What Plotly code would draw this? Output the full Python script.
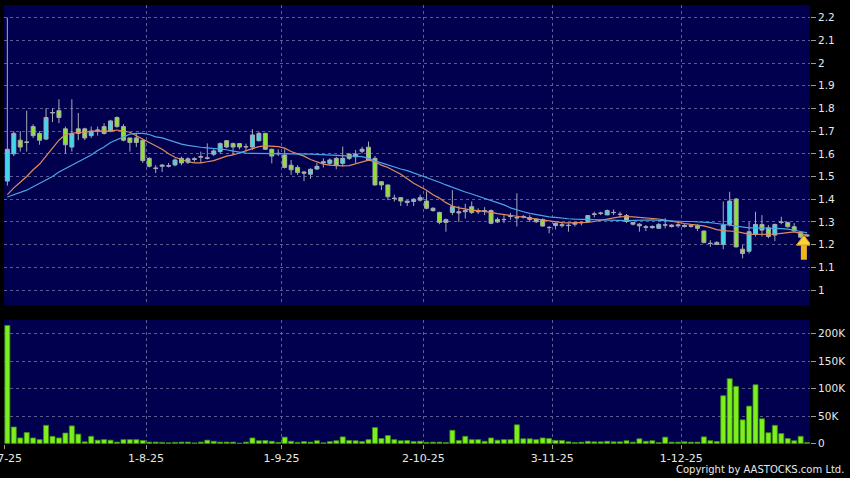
import pandas as pd
import plotly.graph_objects as go

# ---------------- data ----------------
HOLIDAYS = ["2025-10-01", "2025-10-07", "2025-10-29", "2025-12-25", "2025-12-26"]
DATES = [d for d in pd.bdate_range("2025-07-02", "2025-12-30")
         if d.strftime("%Y-%m-%d") not in HOLIDAYS]

OPEN = [1.48, 1.60, 1.66, 1.65, 1.72, 1.69, 1.665, 1.78, 1.79, 1.71,
        1.63, 1.71, 1.71, 1.68, 1.70, 1.72, 1.70, 1.76, 1.72, 1.67,
        1.67, 1.66, 1.58, 1.535, 1.545, 1.548, 1.551, 1.58, 1.563, 1.575,
        1.585, 1.58, 1.598, 1.61, 1.658, 1.645, 1.645, 1.63, 1.63, 1.658,
        1.69, 1.62, 1.60, 1.595, 1.55, 1.54, 1.52, 1.51, 1.533, 1.56,
        1.558, 1.58, 1.558, 1.599, 1.587, 1.611, 1.629, 1.58, 1.477, 1.463,
        1.405, 1.407, 1.392, 1.39, 1.396, 1.392, 1.36, 1.342, 1.298, 1.342,
        1.345, 1.345, 1.367, 1.35, 1.35, 1.35, 1.311, 1.31, 1.324, 1.32,
        1.322, 1.319, 1.313, 1.311, 1.276, 1.284, 1.288, 1.284, 1.29, 1.296,
        1.302, 1.333, 1.337, 1.331, 1.341, 1.334, 1.328, 1.298, 1.29, 1.279,
        1.28, 1.272, 1.286, 1.286, 1.283, 1.285, 1.284, 1.283, 1.26, 1.206,
        1.21, 1.201, 1.289, 1.401, 1.18, 1.171, 1.245, 1.289, 1.274, 1.242,
        1.298, 1.298, 1.279, 1.253, 1.238]
HIGH = [2.20, 1.70, 1.70, 1.79, 1.73, 1.70, 1.80, 1.80, 1.84, 1.72,
        1.84, 1.78, 1.715, 1.72, 1.72, 1.735, 1.75, 1.765, 1.73, 1.67,
        1.69, 1.66, 1.585, 1.55, 1.555, 1.56, 1.58, 1.587, 1.585, 1.585,
        1.61, 1.646, 1.62, 1.65, 1.66, 1.65, 1.648, 1.645, 1.708, 1.697,
        1.693, 1.623, 1.62, 1.62, 1.573, 1.55, 1.525, 1.536, 1.56, 1.58,
        1.58, 1.587, 1.632, 1.602, 1.617, 1.631, 1.654, 1.59, 1.48, 1.463,
        1.42, 1.41, 1.395, 1.405, 1.42, 1.435, 1.365, 1.345, 1.315, 1.44,
        1.37, 1.38, 1.39, 1.36, 1.365, 1.355, 1.32, 1.33, 1.34, 1.426,
        1.33, 1.33, 1.315, 1.315, 1.282, 1.297, 1.30, 1.294, 1.30, 1.30,
        1.33, 1.345, 1.345, 1.355, 1.355, 1.345, 1.335, 1.30, 1.295, 1.286,
        1.285, 1.295, 1.316, 1.29, 1.295, 1.29, 1.29, 1.29, 1.262, 1.22,
        1.215, 1.39, 1.433, 1.405, 1.198, 1.30, 1.345, 1.33, 1.286, 1.292,
        1.323, 1.30, 1.295, 1.256, 1.245]
LOW = [1.46, 1.59, 1.61, 1.61, 1.67, 1.64, 1.66, 1.74, 1.735, 1.60,
       1.61, 1.66, 1.66, 1.67, 1.68, 1.685, 1.695, 1.715, 1.655, 1.61,
       1.63, 1.56, 1.54, 1.515, 1.52, 1.54, 1.545, 1.55, 1.555, 1.565,
       1.56, 1.575, 1.59, 1.60, 1.625, 1.595, 1.62, 1.61, 1.617, 1.654,
       1.617, 1.558, 1.59, 1.535, 1.507, 1.507, 1.48, 1.49, 1.53, 1.54,
       1.55, 1.532, 1.545, 1.573, 1.56, 1.602, 1.57, 1.46, 1.441, 1.396,
       1.39, 1.37, 1.37, 1.37, 1.39, 1.355, 1.345, 1.29, 1.257, 1.33,
       1.30, 1.315, 1.335, 1.335, 1.33, 1.29, 1.295, 1.295, 1.31, 1.28,
       1.315, 1.30, 1.295, 1.279, 1.25, 1.267, 1.275, 1.257, 1.28, 1.285,
       1.30, 1.32, 1.33, 1.33, 1.33, 1.32, 1.295, 1.285, 1.257, 1.26,
       1.27, 1.27, 1.272, 1.275, 1.275, 1.275, 1.275, 1.26, 1.205, 1.19,
       1.198, 1.18, 1.28, 1.188, 1.14, 1.161, 1.236, 1.236, 1.228, 1.216,
       1.29, 1.275, 1.257, 1.228, 1.235]
CLOSE = [1.62, 1.69, 1.63, 1.652, 1.68, 1.66, 1.76, 1.782, 1.76, 1.64,
         1.69, 1.69, 1.67, 1.70, 1.705, 1.69, 1.745, 1.72, 1.66, 1.65,
         1.65, 1.57, 1.545, 1.537, 1.55, 1.546, 1.573, 1.56, 1.578, 1.578,
         1.588, 1.582, 1.613, 1.645, 1.63, 1.63, 1.63, 1.632, 1.683, 1.69,
         1.62, 1.59, 1.602, 1.54, 1.53, 1.518, 1.515, 1.532, 1.545, 1.565,
         1.573, 1.548, 1.58, 1.58, 1.599, 1.62, 1.573, 1.463, 1.463, 1.411,
         1.403, 1.392, 1.386, 1.40, 1.407, 1.36, 1.35, 1.298, 1.31, 1.367,
         1.34, 1.35, 1.342, 1.345, 1.346, 1.294, 1.30, 1.311, 1.327, 1.318,
         1.324, 1.311, 1.301, 1.282, 1.275, 1.294, 1.284, 1.285, 1.294, 1.298,
         1.328, 1.335, 1.339, 1.35, 1.342, 1.333, 1.302, 1.29, 1.283, 1.277,
         1.275, 1.289, 1.287, 1.28, 1.287, 1.28, 1.28, 1.272, 1.21, 1.205,
         1.201, 1.286, 1.392, 1.19, 1.161, 1.257, 1.289, 1.264, 1.236, 1.289,
         1.299, 1.279, 1.261, 1.233, 1.242]
VOLUME = [215000, 30000, 10000, 20000, 10000, 7000, 33000, 13000, 10000, 19000,
          32000, 17000, 3000, 13000, 6000, 7000, 6000, 2500, 7000, 7000,
          7000, 5500, 2500, 2500, 2000, 1200, 2000, 2500, 2500, 1000,
          2500, 6000, 4000, 2500, 2500, 2500, 600, 2500, 10000, 5000,
          5500, 4000, 2000, 11500, 4000, 2000, 3500, 2500, 5000, 1200,
          3500, 5000, 12000, 5500, 5000, 3500, 7000, 29000, 9000, 14500,
          7000, 5000, 5500, 3500, 4000, 2000, 2400, 2400, 1800, 24000,
          5500, 13000, 7000, 7000, 4000, 10000, 6000, 7000, 7000, 34000,
          8500, 8500, 7000, 10000, 9000, 5500, 5500, 3000, 1800, 2400,
          4000, 3000, 3000, 4000, 3000, 3000, 5000, 2400, 8500, 4000,
          5000, 1800, 11500, 2400, 2400, 3000, 2400, 2400, 12000, 5000,
          3700, 87000, 118000, 104000, 43000, 68000, 107000, 45000, 19500, 33000,
          18000, 9000, 5000, 13000, 1800]
MA10 = [1.42, 1.45, 1.475, 1.50, 1.53, 1.555, 1.59, 1.625, 1.66, 1.685,
        1.69, 1.695, 1.695, 1.70, 1.70, 1.70, 1.70, 1.705, 1.70, 1.695,
        1.68, 1.665, 1.65, 1.635, 1.62, 1.60, 1.585, 1.575, 1.565, 1.56,
        1.56, 1.565, 1.57, 1.58, 1.59, 1.595, 1.605, 1.615, 1.625, 1.632,
        1.635, 1.635, 1.632, 1.625, 1.61, 1.60, 1.59, 1.575, 1.565, 1.555,
        1.55, 1.547, 1.547, 1.548, 1.555, 1.565, 1.572, 1.565, 1.55, 1.54,
        1.525, 1.51, 1.49, 1.47, 1.455, 1.44, 1.42, 1.405, 1.385, 1.37,
        1.362, 1.356, 1.352, 1.35, 1.347, 1.342, 1.337, 1.333, 1.328, 1.324,
        1.32, 1.316, 1.311, 1.307, 1.303, 1.30, 1.297, 1.296, 1.296, 1.297,
        1.298, 1.302, 1.308, 1.313, 1.318, 1.322, 1.324, 1.322, 1.32, 1.318,
        1.316, 1.313, 1.308, 1.302, 1.298, 1.293, 1.289, 1.286, 1.283, 1.275,
        1.266, 1.262, 1.26, 1.258, 1.252, 1.246, 1.245, 1.245, 1.245, 1.247,
        1.25, 1.254, 1.256, 1.25, 1.24]
MA20 = [1.41, 1.42, 1.43, 1.44, 1.455, 1.47, 1.485, 1.50, 1.52, 1.535,
        1.55, 1.565, 1.58, 1.595, 1.615, 1.63, 1.65, 1.662, 1.675, 1.687,
        1.69, 1.69, 1.685, 1.675, 1.67, 1.66, 1.65, 1.643, 1.637, 1.632,
        1.629, 1.626, 1.624, 1.621, 1.618, 1.612, 1.607, 1.603, 1.602, 1.602,
        1.601, 1.60, 1.60, 1.60, 1.60, 1.60, 1.60, 1.599, 1.598, 1.597,
        1.596, 1.595, 1.594, 1.592, 1.592, 1.588, 1.58, 1.568, 1.56, 1.55,
        1.54, 1.533, 1.526, 1.516, 1.507, 1.497, 1.487, 1.475, 1.463, 1.452,
        1.441, 1.432, 1.423, 1.414, 1.404, 1.395, 1.385, 1.375, 1.362, 1.352,
        1.345, 1.338, 1.332, 1.327, 1.322, 1.32, 1.316, 1.314, 1.312, 1.311,
        1.31, 1.309, 1.308, 1.307, 1.306, 1.305, 1.306, 1.307, 1.308, 1.31,
        1.309, 1.307, 1.305, 1.304, 1.303, 1.302, 1.302, 1.301, 1.30, 1.297,
        1.293, 1.289, 1.285, 1.279, 1.276, 1.274, 1.274, 1.274, 1.274, 1.273,
        1.271, 1.268, 1.264, 1.258, 1.252]

PRICE_TICKS = [1.0, 1.1, 1.2, 1.3, 1.4, 1.5, 1.6, 1.7, 1.8, 1.9, 2.0, 2.1, 2.2]
VOLUME_TICKS = [0, 50000, 100000, 150000, 200000]
VOLUME_TICK_LABELS = ["0", "50K", "100K", "150K", "200K"]
DATE_TICK_LABELS = ["2-7-25", "1-8-25", "1-9-25", "2-10-25", "3-11-25", "1-12-25"]
COPYRIGHT = "Copyright by AASTOCKS.com Ltd."

# ---------------- styling ----------------
BG = "#000000"
PANEL = "#00004f"
GRID = "#5c5c92"
CYAN = "#36dcee"
GREEN = "#8ce42c"
WICK = "#a9a9b4"
VOL_GREEN = "#7cf01c"
MA10_COLOR = "#e08c5c"
MA20_COLOR = "#4aa4e6"
TEXT = "#e8e8e8"
FONT = "DejaVu Sans"

x = list(range(len(DATES)))
label_of = {f"{d.day}-{d.month}-{d.strftime('%y')}": i for i, d in enumerate(DATES)}
tick_pos = [label_of[t] - 0.5 for t in DATE_TICK_LABELS]
x_range = [-0.52, len(DATES) - 0.55]

fig = go.Figure()

fig.add_trace(go.Candlestick(
    x=x, open=OPEN, high=HIGH, low=LOW, close=CLOSE,
    increasing=dict(fillcolor=CYAN, line=dict(color=WICK, width=1)),
    decreasing=dict(fillcolor=GREEN, line=dict(color=WICK, width=1)),
    whiskerwidth=0, xaxis="x", yaxis="y", hoverinfo="skip"))

fig.add_trace(go.Scatter(x=x, y=MA10, mode="lines",
                         line=dict(color=MA10_COLOR, width=1.2),
                         xaxis="x", yaxis="y", hoverinfo="skip"))
fig.add_trace(go.Scatter(x=x, y=MA20, mode="lines",
                         line=dict(color=MA20_COLOR, width=1.2),
                         xaxis="x", yaxis="y", hoverinfo="skip"))

# latest-price arrow marker
last_x = x[-1] - 0.5
last_c = CLOSE[-1]
fig.add_trace(go.Scatter(x=[last_x], y=[last_c - 0.072], mode="markers",
                         marker=dict(symbol="line-ns", size=12,
                                     line=dict(color="#f0b41c", width=6)),
                         xaxis="x", yaxis="y", hoverinfo="skip"))
fig.add_trace(go.Scatter(x=[last_x], y=[last_c - 0.03], mode="markers",
                         marker=dict(symbol="triangle-up", size=13, color="#fbd23a",
                                     line=dict(color="#d89a10", width=1)),
                         xaxis="x", yaxis="y", hoverinfo="skip"))

fig.add_trace(go.Bar(x=x, y=VOLUME, marker=dict(color=VOL_GREEN,
                                                line=dict(color="#3c8a12", width=0.8)),
                     xaxis="x2", yaxis="y2", hoverinfo="skip"))

axis_common = dict(showline=False, zeroline=False, gridcolor=GRID, griddash="3px,3px",
                   gridwidth=1, automargin=False)

fig.update_layout(
    width=850, height=478,
    paper_bgcolor=BG, plot_bgcolor=PANEL,
    margin=dict(l=4, r=40, t=5, b=34),
    showlegend=False, bargap=0.22, boxgap=0.12,
    font=dict(family=FONT, color=TEXT, size=10),
    xaxis=dict(domain=[0, 1], range=x_range, tickmode="array", tickvals=tick_pos,
               showticklabels=False, ticks="", anchor="y",
               rangeslider=dict(visible=False), **axis_common),
    yaxis=dict(domain=[0.3155, 1], range=[0.932, 2.2555], side="right",
               tickmode="array", tickvals=PRICE_TICKS,
               ticktext=[f"{v:g}" for v in PRICE_TICKS],
               ticks="outside", ticklen=5, tickcolor="#9a9a9a",
               tickfont=dict(family=FONT, size=10.5, color=TEXT),
               anchor="x", **axis_common),
    xaxis2=dict(domain=[0, 1], range=x_range, tickmode="array", tickvals=tick_pos,
                ticktext=DATE_TICK_LABELS, ticks="outside", ticklen=4,
                tickcolor="#9a9a9a", tickfont=dict(family=FONT, size=11, color=TEXT),
                ticklabeloverflow="allow", anchor="y2", **axis_common),
    yaxis2=dict(domain=[0, 0.2825], range=[-1000, 225000], side="right",
                tickmode="array", tickvals=VOLUME_TICKS, ticktext=VOLUME_TICK_LABELS,
                ticks="outside", ticklen=5, tickcolor="#9a9a9a",
                tickfont=dict(family=FONT, size=10.5, color=TEXT),
                anchor="x2", **axis_common),
    annotations=[dict(text=COPYRIGHT, xref="paper", yref="paper",
                      x=1.0447, y=-0.0592, xanchor="right", yanchor="middle",
                      showarrow=False, font=dict(family=FONT, size=10, color=TEXT))],
)

fig.write_html("out.html",
               config={"displayModeBar": False},
               post_script="document.body.style.margin='0';"
                           "document.body.style.overflow='hidden';")
